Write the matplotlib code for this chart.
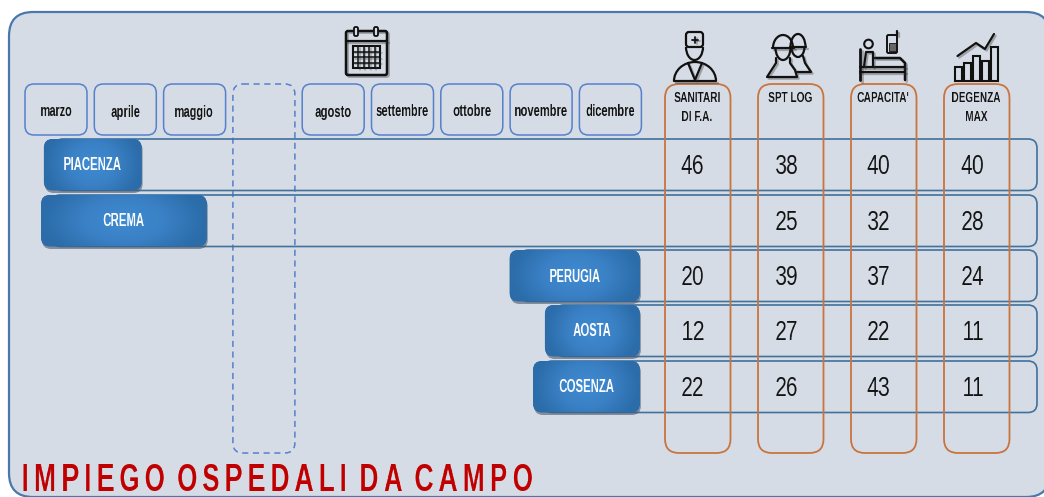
import numpy as np
import matplotlib
matplotlib.use('Agg')
import matplotlib.pyplot as plt
import matplotlib.patheffects as pe
from matplotlib.patches import FancyBboxPatch, Rectangle, Circle, Arc

plt.rcParams['font.family'] = ['Liberation Sans', 'DejaVu Sans']

months = ['marzo', 'aprile', 'maggio', '', 'agosto', 'settembre', 'ottobre', 'novembre', 'dicembre']
hospitals = ['PIACENZA', 'CREMA', 'PERUGIA', 'AOSTA', 'COSENZA']
# start / end of each deployment, in months from the left of "marzo"
start_m = [0.33, 0.29, 7.05, 7.56, 7.39]
end_m = [1.74, 2.68, 8.93, 8.93, 8.93]

metrics = ['SANITARI\nDI F.A.', "SPT LOG", "CAPACITA'", 'DEGENZA\nMAX']
sanitari = [46, None, 20, 12, 22]
spt_log = [38, 25, 39, 27, 26]
capacita = [40, 32, 37, 22, 43]
degenza = [40, 28, 24, 11, 11]

title = 'IMPIEGO OSPEDALI DA CAMPO'

BG = '#D6DCE5'
BLUE = '#5580CC'
ROW = '#41719C'
ORANGE = '#C9743E'
INK = '#111111'

fig = plt.figure(figsize=(10.44, 4.97), dpi=100, facecolor='white')
ax = fig.add_axes([0, 0, 1, 1])
ax.set_xlim(0, 1044)
ax.set_ylim(497, 0)
ax.axis('off')


def resample(img, nw):
    w = img.shape[1]
    xs = np.linspace(0, w - 1, nw)
    i0 = np.floor(xs).astype(int)
    i1 = np.minimum(i0 + 1, w - 1)
    t = (xs - i0)[None, :, None]
    return img[:, i0] * (1 - t) + img[:, i1] * t


# no condensed font installed, so the drawn text gets narrowed afterwards
def squeeze(s):
    def f(img, dpi):
        w = img.shape[1]
        nw = max(1, int(round(w * s)))
        return resample(img, nw), (w - nw) // 2, 0
    return f


# narrows each letter and opens up the gaps between them (for the title)
def tracked(s, extra):
    def f(img, dpi):
        ink = img[..., 3].max(axis=0) > 0.03
        parts = []
        x = 0
        w = img.shape[1]
        while x < w:
            x2 = x
            while x2 < w and ink[x2] == ink[x]:
                x2 += 1
            nw = max(1, int(round((x2 - x) * s)))
            if ink[x]:
                parts.append(resample(img[:, x:x2], nw))
            else:
                parts.append(np.zeros((img.shape[0], nw + extra, 4)))
            x = x2
        return np.concatenate(parts, axis=1), 0, 0
    return f


def rbox(x0, y0, x1, y1, r, **kw):
    p = FancyBboxPatch((x0 + r, y0 + r), x1 - x0 - 2 * r, y1 - y0 - 2 * r,
                       boxstyle='round,pad=%f,rounding_size=%f' % (r, r), **kw)
    ax.add_patch(p)
    return p


def m2x(m):
    return 21 + 69.3 * m


rbox(9, 12, 1050, 497, 24, fc=BG, ec='#4A78AC', lw=1.6, zorder=1)

# month boxes
for i, name in enumerate(months):
    x0 = 25 + 69.3 * i
    if name:
        rbox(x0, 84, x0 + 62, 135, 9, fc='none', ec=BLUE, lw=1.1, zorder=2)
        t = ax.text(x0 + 31, 112, name, ha='center', va='center', fontsize=12, fontweight='bold',
                    color=INK, zorder=5)
        t.set_agg_filter(squeeze(0.67))
    else:
        rbox(x0, 84, x0 + 62, 453, 10, fc='none', ec=BLUE, lw=1.1, ls=(0, (4, 3)), zorder=2)

# rows and gantt bars
row_top = [139, 195, 250, 305, 361]
grad_x, grad_y = np.meshgrid(np.linspace(-1, 1, 120), np.linspace(-1, 1, 40))
grad = np.clip(np.sqrt(grad_x ** 2 + (grad_y * 0.6) ** 2), 0, 1)
grad_cmap = matplotlib.colors.LinearSegmentedColormap.from_list('bar', ['#3F8BD2', '#3A80C4', '#2B6CA9'])

for i, name in enumerate(hospitals):
    y0 = row_top[i]
    y1 = y0 + 51.5
    x0, x1 = m2x(start_m[i]), m2x(end_m[i])
    rbox(x0 + 10, y0, 1037, y1, 9, fc='none', ec=ROW, lw=1.2, zorder=3)
    rbox(x0 + 1, y0 + 2, x1 + 1, y1 + 2.5, 9, fc='#4A5A70', ec='none', alpha=0.6, zorder=4)
    clip = rbox(x0, y0, x1, y1, 9, fc='#2B6CA9', ec='none', zorder=4)
    im = ax.imshow(grad, extent=(x0, x1, y1, y0), cmap=grad_cmap, aspect='auto', zorder=4.5,
                   interpolation='bilinear')
    im.set_clip_path(clip)
    t = ax.text((x0 + x1) / 2, y0 + 27, name, ha='center', va='center', fontsize=13,
                fontweight='bold', color='white', zorder=6)
    t.set_agg_filter(squeeze(0.63))

ax.set_xlim(0, 1044)
ax.set_ylim(497, 0)

# metric columns
col_left = [665, 758, 851, 944]
val_x = [693, 787, 879, 973]
for j, (label, vals) in enumerate(zip(metrics, [sanitari, spt_log, capacita, degenza])):
    x0 = col_left[j]
    rbox(x0, 84, x0 + 65.5, 453, 14, fc='none', ec=ORANGE, lw=1.3, zorder=5)
    t = ax.text(x0 + 32.5, 91, label, ha='center', va='top', fontsize=11, fontweight='bold',
                color=INK, linespacing=1.45, zorder=6)
    t.set_agg_filter(squeeze(0.66))
    for i, v in enumerate(vals):
        if v is not None:
            t = ax.text(val_x[j], row_top[i] + 28, str(v), ha='center', va='center', fontsize=20,
                        color=INK, zorder=6)
            t.set_agg_filter(squeeze(0.76))

t = ax.text(21, 481, title, ha='left', va='center', fontsize=27, fontweight='bold',
            color='#C00000', zorder=6)
t.set_agg_filter(tracked(0.71, 5))

# icons
shadow = [pe.SimpleLineShadow(offset=(1.2, -1.2), alpha=0.35, shadow_color='#333333'), pe.Normal()]


def line(xs, ys, lw=1.6):
    ax.plot(xs, ys, color=INK, lw=lw, zorder=7, path_effects=shadow, solid_capstyle='round')


def arc(cx, cy, w, h, a0, a1, lw=1.6):
    ax.add_patch(Arc((cx, cy), w, h, theta1=a0, theta2=a1, color=INK, lw=lw, zorder=7))


# calendar
rbox(346, 31, 387, 75, 2, fc='none', ec=INK, lw=1.8, zorder=7, path_effects=shadow)
line([346, 387], [41, 41])
for rx in (356, 376):
    rbox(rx - 2, 27, rx + 2, 36, 1.5, fc=BG, ec=INK, lw=1.3, zorder=8)
ax.add_patch(Rectangle((353, 46), 27, 22, fc='none', ec=INK, lw=1.5, zorder=7))
for gx in (358.4, 363.8, 369.2, 374.6):
    line([gx, gx], [46, 68], lw=1.1)
for gy in (51.5, 57, 62.5):
    line([353, 380], [gy, gy], lw=1.1)

# doctor
rbox(686, 32, 703, 47, 3, fc='none', ec=INK, lw=1.6, zorder=7)
arc(694.5, 47, 17, 26, 0, 180)
line([695, 695], [36.5, 42.5], lw=1.3)
line([692, 698], [39.5, 39.5], lw=1.3)
line([674, 716], [81, 81])
arc(695, 81, 42, 38, 180, 360)
line([688, 695, 702], [63, 80, 63])

# workers
arc(798, 47, 15, 26, 180, 360)
line([790, 806], [47, 47])
arc(798, 47, 13, 20, 0, 180)
line([803, 805, 811, 797], [56, 63, 72, 72])
ax.add_patch(Circle((783, 47), 10.5, fc=BG, ec='none', zorder=6.5))
arc(783, 48, 20, 26, 180, 360)
line([772, 794], [48, 48])
arc(783, 48, 15, 24, 0, 180)
line([776, 776, 767, 797, 795, 790, 790], [58, 63, 77, 77, 70, 63, 58])

# bed + phone
ax.add_patch(Circle((868.5, 44), 4.3, fc='none', ec=INK, lw=1.5, zorder=7))
line([860, 860], [49, 80], lw=2)
line([875, 900, 905, 905], [58, 58, 63, 80], lw=1.8)
line([860, 905], [67, 67])
line([860, 905], [72, 72])
line([864, 866, 873, 873], [67, 52, 52, 67])
rbox(887, 35, 897, 53, 1.5, fc='none', ec=INK, lw=1.4, zorder=7)
line([897, 897], [35, 31])
ax.add_patch(Rectangle((889, 43), 6.5, 8, fc='#666666', ec=INK, lw=0.6, zorder=7))

# trend chart
for bx, top in ((955, 67), (964, 63), (973, 56), (982, 61), (991, 47)):
    ax.add_patch(Rectangle((bx, top), 6.5, 81 - top, fc='none', ec=INK, lw=1.5, zorder=7))
line([957.5, 976, 985, 994], [56, 43, 49, 34])

fig.savefig('out.png', dpi=100)
